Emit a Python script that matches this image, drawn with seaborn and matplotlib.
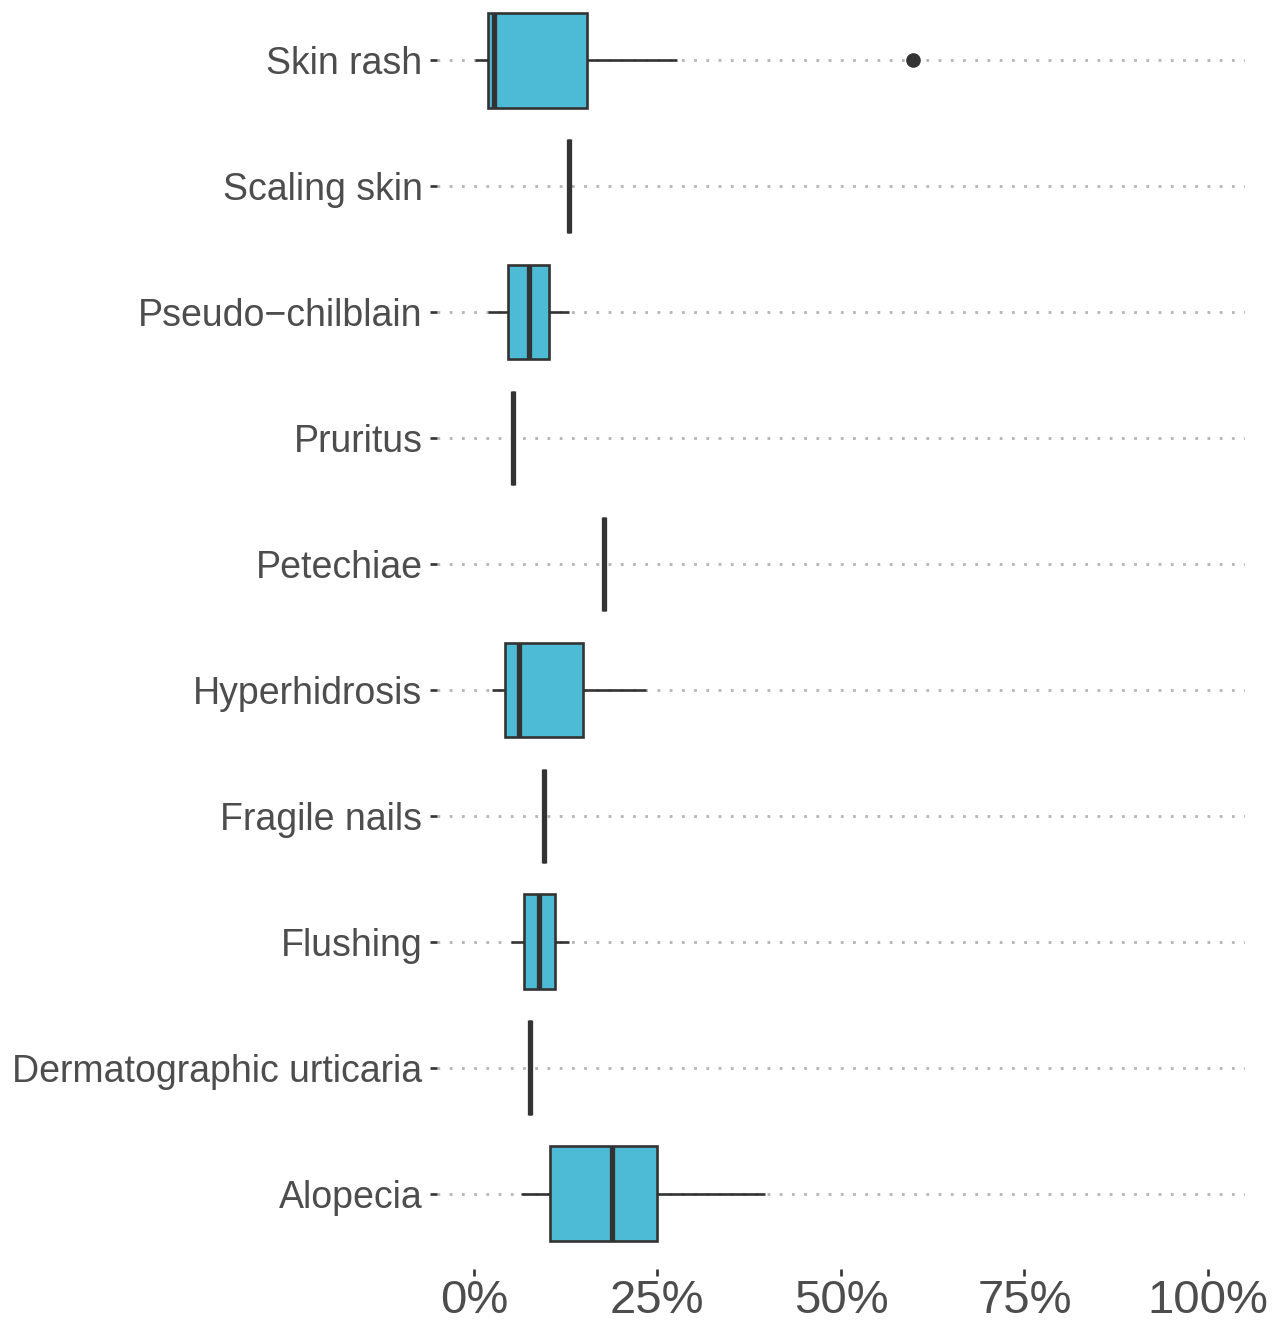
import matplotlib
matplotlib.use("Agg")
import matplotlib.pyplot as plt
import seaborn as sns
import pandas as pd

# Symptome in Reihenfolge von oben nach unten
categories = ["Skin rash", "Scaling skin", "Pseudo\u2212chilblain", "Pruritus",
              "Petechiae", "Hyperhidrosis", "Fragile nails", "Flushing",
              "Dermatographic urticaria", "Alopecia"]

# Anteile in Prozent (pro Studie)
skin_rash = [0.1, 1.0, 1.96, 2.4, 2.8, 9.0, 15.4, 27.7, 59.8]
scaling_skin = [13.0]
pseudo_chilblain = [2.0, 3.5, 4.7, 6.0, 7.5, 9.0, 10.3, 11.5, 12.9]
pruritus = [5.3]
petechiae = [17.8]
hyperhidrosis = [2.5, 3.5, 4.3, 5.0, 6.2, 10.0, 14.9, 19.0, 23.5]
fragile_nails = [9.5]
flushing = [5.0, 6.0, 6.9, 8.0, 8.9, 10.0, 11.0, 12.0, 12.9]
dermatographic_urticaria = [7.7]
alopecia = [6.4, 8.5, 10.4, 15.0, 18.8, 22.0, 25.0, 32.0, 39.7]

x_ticks = [0, 25, 50, 75, 100]
x_tick_labels = ["0%", "25%", "50%", "75%", "100%"]


def build_frame():
    """Baut einen langen DataFrame aus den einzelnen Listen."""
    series = [skin_rash, scaling_skin, pseudo_chilblain, pruritus, petechiae,
              hyperhidrosis, fragile_nails, flushing,
              dermatographic_urticaria, alopecia]
    rows = []
    for name, vals in zip(categories, series):
        for v in vals:
            rows.append({"symptom": name, "pct": v})
    return pd.DataFrame(rows)


def main():
    df = build_frame()

    sns.set_style("white")
    plt.rcParams["font.family"] = ["Liberation Sans", "DejaVu Sans"]

    fig = plt.figure(figsize=(12.78, 13.24), dpi=100)
    ax = fig.add_axes([0.342, 0.0415, 0.632, 0.970])

    # gepunktete Gitterlinien je Kategorie
    for i in range(len(categories)):
        ax.axhline(i, color="#B4B4B4", lw=2.0, ls=(0, (1, 3.4)), zorder=0)

    dark = "#333333"
    sns.boxplot(data=df, x="pct", y="symptom", order=categories, orient="h",
                color="#4DBBD5", saturation=1, width=0.75, linecolor=dark,
                linewidth=1.9, showcaps=False, ax=ax,
                medianprops={"color": dark, "linewidth": 3.8},
                flierprops={"marker": "o", "markersize": 9.5,
                            "markerfacecolor": dark, "markeredgecolor": dark})

    ax.set_xlim(-5, 105)
    ax.set_ylim(len(categories) - 0.4, -0.6)
    ax.set_xticks(x_ticks)
    ax.set_xticklabels(x_tick_labels)
    ax.set_xlabel("")
    ax.set_ylabel("")
    for s in ax.spines.values():
        s.set_visible(False)
    ax.grid(False)

    ax.tick_params(axis="y", length=5, width=1.9, color=dark, pad=5.5,
                   labelsize=27, labelcolor="#4D4D4D", left=True)
    ax.tick_params(axis="x", length=5, width=1.9, color=dark, pad=2,
                   labelsize=34, labelcolor="#4D4D4D", bottom=True)

    fig.savefig("out.png", dpi=100)


if __name__ == "__main__":
    main()
